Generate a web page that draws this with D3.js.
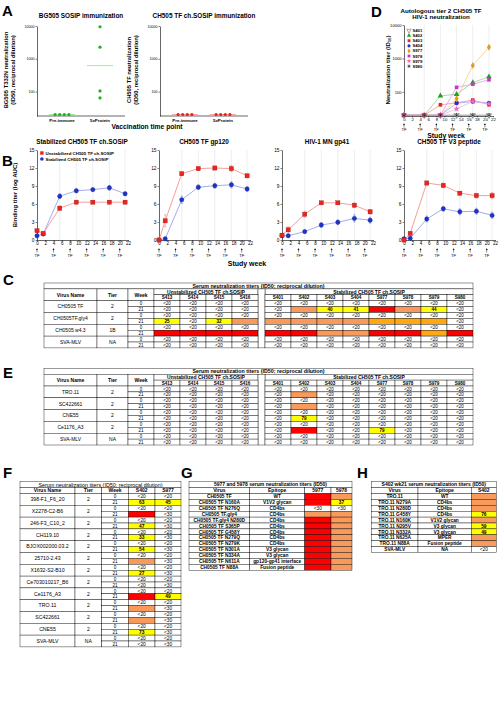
<!DOCTYPE html>
<html><head><meta charset="utf-8">
<script src="https://cdn.jsdelivr.net/npm/d3@7"></script>
<style>
html,body{margin:0;padding:0;background:#fff;}
svg{display:block;}
svg text{font-family:"Liberation Sans",Arial,Helvetica,sans-serif;}
</style></head><body>
<svg id="chart" width="504" height="723"></svg>
<script>
// ---------------- DATA ----------------
// Panel A
const aCategories = ["Pre-immune", "5xProtein"];
const aTicks = [100, 1000, 10000];
const bg505Pre = [20, 20, 20, 20];
const bg505Post = [9500, 2260, 105, 64];
const ch505Pre = [20, 20, 20, 20];
const ch505Post = [20, 20, 20, 20];

// Panel B
const bTitles = ["Stabilized CH505 TF ch.SOSIP", "CH505 TF gp120", "HIV-1 MN gp41", "CH505 TF V3 peptide"];
const bWeeks = [0, 1.5, 5.5, 9.5, 13.5, 17.5, 21.3];
const bUnstab = [
  [1.55, 1.1, 5.3, 6.3, 6.3, 6.3, 6.3],
  [0.0, 3.2, 11.05, 11.9, 12.0, 11.9, 10.7],
  [0.8, 1.7, 4.3, 6.2, 6.2, 5.8, 4.7],
  [0.0, 1.1, 9.5, 9.1, 7.8, 7.4, 7.4]
];
const bUnstabErr = [
  [0.2, 0.2, 0.4, 0.2, 0.2, 0.2, 0.2],
  [0.1, 1.0, 0.3, 0.3, 0.3, 0.5, 0.3],
  [0.1, 0.5, 0.5, 0.2, 0.2, 0.4, 0.4],
  [0.1, 0.3, 0.3, 0.4, 0.3, 0.4, 0.5]
];
const bStab = [
  [0.7, 1.0, 7.3, 8.2, 8.4, 8.7, 7.7],
  [0.0, 0.2, 6.7, 8.8, 9.05, 9.2, 8.5],
  [0.7, 0.7, 1.4, 2.5, 2.95, 3.6, 3.3],
  [0.2, 0.3, 3.5, 5.2, 4.7, 4.8, 4.1]
];
const bStabErr = [
  [0.15, 0.15, 0.4, 0.3, 0.3, 0.4, 0.3],
  [0.1, 0.1, 0.6, 0.4, 0.4, 0.5, 0.4],
  [0.1, 0.1, 0.3, 0.4, 0.4, 0.6, 0.5],
  [0.1, 0.1, 0.5, 0.4, 0.5, 0.5, 0.5]
];
const bYTicks = [0, 3, 6, 9, 12, 15];
const weekTicks = [0, 2, 4, 6, 8, 10, 12, 14, 16, 18, 20, 22];
const immunWeeks = [0, 4, 8, 12, 16, 20];
const bLegend = ["Unstabilized CH505 TF ch.SOSIP", "Stabilized CH505 TF ch.SOSIP"];

// Panel D
const dWeeks = [0, 5, 9, 13, 17, 21];
const dSera = ["S401", "S402", "S403", "S404", "S977", "S978", "S979", "S980"];
const dS401 = [20, 20, 20, 20, 20, 20];
const dS402 = [20, 20, 76, 85, 189, 284];
const dS403 = [20, 20, 41, 47, 57, 41];
const dS404 = [20, 20, 20, 46, 51, 47];
const dS977 = [20, 20, 20, 62, 620, 2150];
const dS978 = [20, 20, 20, 137, 170, 230];
const dS979 = [20, 20, 20, 31, 52, 44];
const dS980 = [20, 20, 20, 20, 20, 20];
const dTicks = [100, 1000, 10000];

// Tables C and E (R = red, O = orange, G = gold; numbers = yellow)
const unstabSera = ["S413", "S414", "S415", "S416"];
const stabSera = ["S401", "S402", "S403", "S404", "S977", "S978", "S979", "S980"];
const cViruses = ["CH0505 TF", "CH0505TF.gly4", "CH0505 w4.3", "SVA-MLV"];
const cTiers = ["2", "2", "1B", "NA"];
const cWeek0 = [
  ["<20","<20","<20","<20","<20","<20","<20","<20","<20","<20","<20","<20"],
  ["<20","<20","<20","<20","<20","<20","<20","<20","<20","<20","<20","<20"],
  ["<20","<20","<20","<20","<20","<20","<20","<20","<20","<20","<20","<20"],
  ["<20","<20","<20","<20","<20","<20","<20","<20","<20","<20","<20","<20"]
];
const cWeek21 = [
  ["<20","<20","<20","<20","<20","O","40","41","R","O","44","<20"],
  ["25","<20","32","O","O","O","O","O","G","G","G","<20"],
  ["R","R","R","R","R","R","O","O","R","R","G","R"],
  ["<20","<20","<20","<20","<20","<20","<20","<20","<20","<20","<20","<20"]
];
const eViruses = ["TRO.11", "SC422661", "CNE55", "Ce1176_A3", "SVA-MLV"];
const eTiers = ["2", "2", "2", "2", "NA"];
const eWeek0 = [
  ["<20","<20","<20","<20","<20","<20","<20","<20","<20","<20","<20","<20"],
  ["<20","<20","<20","<20","<20","<20","<20","<20","<20","<20","<20","<20"],
  ["<20","<20","<20","<20","<20","<20","<20","<20","<20","<20","<20","<20"],
  ["<20","<20","<20","<20","<20","<20","<20","<20","<20","<20","<20","<20"],
  ["<20","<20","<20","<20","<20","<20","<20","<20","<20","<20","<20","<20"]
];
const eWeek21 = [
  ["<20","<20","<20","<20","<20","O","<20","<20","<20","<20","<20","<20"],
  ["<20","<20","<20","<20","<20","O","<20","<20","<20","<20","<20","<20"],
  ["<20","<20","<20","<20","<20","79","<20","<20","<20","<20","<20","<20"],
  ["<20","<20","<20","<20","<20","R","<20","<20","79","<20","<20","<20"],
  ["<20","<20","<20","<20","<20","<20","<20","<20","<20","<20","<20","<20"]
];

// Table F
const fViruses = ["398-F1_F6_20","X2278-C2-B6","246-F3_C10_2","CH119.10","BJOX002000.03.2","25710-2.43","X1632-S2-B10","Ce703010217_B6","Ce1176_A3","TRO.11","SC422661","CNE55","SVA-MLV"];
const fTiers = ["2","2","2","2","2","2","2","2","2","2","2","2","NA"];
const fS402wk0 = ["<20","<20","<20","<20","<20","<20","<20","<20","<20","<20","<20","<20","<20"];
const fS402wk21 = ["63","R","47","33","54","O","27","<20","R","O","O","73","<20"];
const fS977wk0 = ["<20","<20","<20","<20","<20","<20","<20","<20","<20","<20","<20","<20","<20"];
const fS977wk21 = ["45","<30","<30","<30","<30","<30","<30","<30","49","<30","<30","<30","<30"];

// Table G
const gViruses = ["CH0505 TF","CH0505 TF N160A","CH0505 TF N276Q","CH0505 TF.gly4","CH0505 TF.gly4 N280D","CH0505 TF S365P","CH0505 TF G458Y","CH0505 TF N279Q","CH0505 TF N279K","CH0505 TF N301A","CH0505 TF N334A","CH0505 TF N611A","CH0505 TF N88A"];
const gEpitopes = ["WT","V1V2 glycan","CD4bs","CD4bs","CD4bs","CD4bs","CD4bs","CD4bs","CD4bs","V3 glycan","V3 glycan","gp120-gp41 interface","Fusion peptide"];
const g5977 = ["R","R","<30","O","R","R","R","R","R","R","R","R","R"];
const g5978 = ["O","37","<30","O","O","O","O","O","O","O","O","O","O"];

// Table H
const hViruses = ["TRO.11","TRO.11 N279A","TRO.11 N280D","TRO.11 G458Y","TRO.11 N160K","TRO.11 N295V","TRO.11 N332A","TRO.11 N625A","TRO.11 N88A","SVA-MLV"];
const hEpitopes = ["WT","CD4bs","CD4bs","CD4bs","V1V2 glycan","V3 glycan","V3 glycan","MPER","Fusion peptide","NA"];
const hS402 = ["O","O","O","76","O","59","49","O","O","<20"];

// ---------------- DRAWING ----------------
const svg = d3.select("#chart");
const RED = "#FF0000", ORG = "#F79A5C", GOLD = "#FFA812", YEL = "#FFFF00";

function txt(g, x, y, s, o = {}) {
  const t = g.append("text").attr("x", x).attr("y", y).text(s)
    .attr("font-size", o.size || 5)
    .attr("font-weight", o.bold ? "bold" : "normal")
    .attr("text-anchor", o.anchor || "middle")
    .attr("fill", o.fill || "#000");
  if (o.rotate) t.attr("transform", `rotate(${o.rotate},${x},${y})`);
  return t;
}
function styleAxis(sel, size) {
  sel.selectAll("path.domain").attr("stroke", "#000").attr("stroke-width", 0.6);
  sel.selectAll(".tick line").attr("stroke", "#000").attr("stroke-width", 0.5);
  sel.selectAll(".tick text").attr("font-size", size).attr("fill", "#000")
    .attr("font-family", '"Liberation Sans",Arial,sans-serif');
  sel.attr("font-family", null).attr("font-size", null);
}

// panel letters
[["A",2,16],["B",2,166],["C",3,285],["D",371,17],["E",3,378],["F",3,478],["G",181,478],["H",357,478]]
  .forEach(([l,x,y]) => txt(svg, x, y, l, {size: 15, bold: true, anchor: "start"}));

// ---------- Panel A ----------
function panelA(x0, title, yl1, yl2, pre, post, color, lineColor) {
  const g = svg.append("g");
  const x = d3.scalePoint().domain(aCategories).range([x0 + 25, x0 + 63]);
  const y = d3.scaleLog().domain([18, 10000]).range([116, 26]);
  const ax = g.append("g").attr("transform", `translate(${x0},0)`)
    .call(d3.axisLeft(y).tickValues(aTicks).tickFormat(d3.format("d")).tickSize(1.5).tickPadding(1).tickSizeOuter(0));
  styleAxis(ax, 3.6);
  g.append("line").attr("x1", x0).attr("x2", x0 + 88).attr("y1", 116).attr("y2", 116)
    .attr("stroke", "#000").attr("stroke-width", 0.6);
  aCategories.forEach(c => txt(g, x(c), 122.2, c, {size: 4.4, bold: true}));
  txt(g, x0 + 44, 18, title, {size: 6.4, bold: true});
  txt(g, x0 - 29, 70, yl1, {size: 5.8, bold: true, rotate: -90});
  txt(g, x0 - 22, 70, yl2, {size: 5.8, bold: true, rotate: -90});
  [[aCategories[0], pre], [aCategories[1], post]].forEach(([c, vals]) => {
    const gm = Math.pow(10, d3.mean(vals, v => Math.log10(v)));
    g.append("line").attr("x1", x(c) - 13).attr("x2", x(c) + 13).attr("y1", y(gm)).attr("y2", y(gm))
      .attr("stroke", lineColor).attr("stroke-width", 0.7);
    const same = vals.every(v => v === vals[0]);
    vals.forEach((v, i) => {
      const off = same ? (i - (vals.length - 1) / 2) * 4.6 : 0;
      g.append("circle").attr("cx", x(c) + off).attr("cy", y(v)).attr("r", 1.6).attr("fill", color);
    });
  });
}
panelA(37, "BG505 SOSIP immunization", "BG505 T332N neutralization", "(ID50, reciprocal dilution)", bg505Pre, bg505Post, "#22B022", "#7BE07B");
panelA(160, "CH505 TF ch.SOSIP immunization", "CH505 TF neutralization", "(ID50, reciprocal dilution)", ch505Pre, ch505Post, "#E82020", "#F08080");
txt(svg, 147, 128.5, "Vaccination time point", {size: 6.7, bold: true});

// ---------- Panel B ----------
const bX0s = [37, 159, 282, 404];
function arrows(g, x, yTop, tfY) {
  immunWeeks.forEach(w => {
    const xx = x(w);
    g.append("line").attr("x1", xx).attr("x2", xx).attr("y1", yTop + 4.2).attr("y2", yTop + 0.6)
      .attr("stroke", "#000").attr("stroke-width", 0.45);
    g.append("path").attr("d", `M${xx - 0.9},${yTop + 1.7}L${xx},${yTop}L${xx + 0.9},${yTop + 1.7}Z`).attr("fill", "#000");
    txt(g, xx, tfY, "TF", {size: 4.2});
  });
}
bTitles.forEach((title, i) => {
  const g = svg.append("g");
  const x0 = bX0s[i];
  const x = d3.scaleLinear().domain([0, 22]).range([x0, x0 + 91]);
  const y = d3.scaleLinear().domain([0, 15]).range([240, 150]);
  bWeeks.slice(2).forEach(w => g.append("line").attr("x1", x(w)).attr("x2", x(w)).attr("y1", 150).attr("y2", 240)
    .attr("stroke", "#dcdcdc").attr("stroke-width", 0.5));
  const ay = g.append("g").attr("transform", `translate(${x0},0)`)
    .call(d3.axisLeft(y).tickValues(bYTicks).tickSize(1.5).tickPadding(1).tickSizeOuter(0));
  styleAxis(ay, 4.8);
  const axb = g.append("g").attr("transform", `translate(0,240)`)
    .call(d3.axisBottom(x).tickValues(weekTicks).tickSize(1.5).tickPadding(0.8).tickSizeOuter(0));
  styleAxis(axb, 4.5);
  arrows(g, x, 248.3, 256.5);
  txt(g, x0 + 45, 144, title, {size: 6.4, bold: true});
  const series = [
    {vals: bUnstab[i], err: bUnstabErr[i], line: "#F4877E", mk: "#E8251F", ebc: "#F07070", shape: "sq"},
    {vals: bStab[i], err: bStabErr[i], line: "#8A98EE", mk: "#1F33CC", ebc: "#6677DD", shape: "ci"}
  ];
  // draw stabilized first then unstabilized on top? keep order: blue then red
  [series[1], series[0]].forEach(s => {
    g.append("path").datum(s.vals.map((v, k) => [bWeeks[k], v]))
      .attr("d", d3.line().x(d => x(d[0])).y(d => y(d[1])))
      .attr("fill", "none").attr("stroke", s.line).attr("stroke-width", 0.8);
    s.vals.forEach((v, k) => {
      const xx = x(bWeeks[k]), e = s.err[k];
      const lo = Math.max(0, v - e), hi = v + e;
      g.append("line").attr("x1", xx).attr("x2", xx).attr("y1", y(lo)).attr("y2", y(hi)).attr("stroke", s.ebc).attr("stroke-width", 0.5);
      [lo, hi].forEach(t => g.append("line").attr("x1", xx - 1.2).attr("x2", xx + 1.2).attr("y1", y(t)).attr("y2", y(t)).attr("stroke", s.ebc).attr("stroke-width", 0.5));
      if (s.shape === "sq") g.append("rect").attr("x", xx - 2.1).attr("y", y(v) - 2.1).attr("width", 4.2).attr("height", 4.2)
        .attr("fill", s.mk).attr("stroke", "#9a1010").attr("stroke-width", 0.3);
      else g.append("circle").attr("cx", xx).attr("cy", y(v)).attr("r", 2.2).attr("fill", s.mk).attr("stroke", "#10207a").attr("stroke-width", 0.3);
    });
  });
  if (i === 0) {
    g.append("rect").attr("x", 40.2).attr("y", 151.3).attr("width", 3.4).attr("height", 3.4).attr("fill", "#E8251F");
    txt(g, 45.5, 154.6, bLegend[0], {size: 4.4, bold: true, anchor: "start"});
    g.append("circle").attr("cx", 41.9).attr("cy", 159).attr("r", 1.8).attr("fill", "#1F33CC");
    txt(g, 45.5, 160.6, bLegend[1], {size: 4.4, bold: true, anchor: "start"});
  }
});
txt(svg, 17, 195, "Binding titer (log AUC)", {size: 6, bold: true, rotate: -90});
txt(svg, 247, 266, "Study week", {size: 7, bold: true});

// ---------- Panel D ----------
(function () {
  const g = svg.append("g");
  const x = d3.scaleLinear().domain([0, 22]).range([404, 493]);
  const y = d3.scaleLog().domain([19, 10000]).range([116, 25]);
  dWeeks.slice(1).forEach(w => g.append("line").attr("x1", x(w)).attr("x2", x(w)).attr("y1", 25).attr("y2", 116)
    .attr("stroke", "#dcdcdc").attr("stroke-width", 0.5));
  const ay = g.append("g").attr("transform", `translate(404,0)`)
    .call(d3.axisLeft(y).tickValues(dTicks).tickFormat(d3.format("d")).tickSize(1.5).tickPadding(1).tickSizeOuter(0));
  styleAxis(ay, 4.1);
  const axb = g.append("g").attr("transform", `translate(0,116)`)
    .call(d3.axisBottom(x).tickValues(weekTicks).tickSize(1.5).tickPadding(0.8).tickSizeOuter(0));
  styleAxis(axb, 4.3);
  arrows(g, x, 123.3, 131);
  txt(g, 441, 12.5, "Autologous tier 2 CH505 TF", {size: 6.2, bold: true});
  txt(g, 441, 19, "HIV-1 neutralization", {size: 6.2, bold: true});
  txt(g, 446, 138.2, "Study week", {size: 6.8, bold: true});
  const yl = g.append("text").attr("transform", "translate(390,70) rotate(-90)").attr("text-anchor", "middle")
    .attr("font-size", 6).attr("font-weight", "bold");
  yl.append("tspan").text("Neutralization titer (ID");
  yl.append("tspan").text("50").attr("font-size", 4).attr("dy", 1.2);
  yl.append("tspan").text(")").attr("dy", -1.2);
  const vals = [dS401, dS402, dS403, dS404, dS977, dS978, dS979, dS980];
  const style = [
    {c: "#555555", l: "#aaaaaa", sym: d3.symbolTriangle, rot: 180, open: true},
    {c: "#22A022", l: "#7FD07F", sym: d3.symbolTriangle, rot: 0},
    {c: "#E8251F", l: "#F4877E", sym: d3.symbolSquare, rot: 0},
    {c: "#1F33CC", l: "#8A98EE", sym: d3.symbolCircle, rot: 0},
    {c: "#E39B1F", l: "#F2C27A", sym: d3.symbolDiamond, rot: 0},
    {c: "#CC33CC", l: "#E58AE5", sym: d3.symbolSquare, rot: 0},
    {c: "#F266C8", l: "#F7A8DD", sym: d3.symbolStar, rot: 0},
    {c: "#111111", l: "#999999", sym: d3.symbolAsterisk || d3.symbolCross, rot: 0, stroke: true}
  ];
  const sizes = [13, 14, 13, 13, 14, 13, 13, 13];
  // lines
  vals.forEach((v, i) => {
    g.append("path").datum(v.map((d, k) => [dWeeks[k], d]))
      .attr("d", d3.line().x(d => x(d[0])).y(d => y(d[1])))
      .attr("fill", "none").attr("stroke", style[i].l).attr("stroke-width", 0.7);
  });
  function mark(gg, cx, cy, i, size) {
    const s = style[i];
    const p = gg.append("path").attr("d", d3.symbol().type(s.sym).size(size)())
      .attr("transform", `translate(${cx},${cy}) rotate(${s.rot})`);
    if (s.open) p.attr("fill", "#fff").attr("stroke", s.c).attr("stroke-width", 0.5);
    else if (s.stroke) p.attr("fill", "none").attr("stroke", s.c).attr("stroke-width", 0.6);
    else p.attr("fill", s.c);
  }
  vals.forEach((v, i) => v.forEach((d, k) => mark(g, x(dWeeks[k]), y(d), i, sizes[i])));
  // legend
  dSera.forEach((s, i) => {
    const ly = 30.5 + i * 5.1;
    mark(g, 409, ly, i, 8);
    txt(g, 412.5, ly + 1.5, s, {size: 4.2, bold: true, anchor: "start"});
  });
})();

// ---------- Tables ----------
function decode(v) {
  if (v === "R") return {fill: RED, text: ""};
  if (v === "O") return {fill: ORG, text: ""};
  if (v === "G") return {fill: GOLD, text: ""};
  if (/^\d+$/.test(v)) return {fill: YEL, text: v, bold: true};
  return {fill: "#fff", text: v};
}
function tcell(g, x0, x1, y0, y1, text, fill, o = {}) {
  g.append("rect").attr("x", x0).attr("y", y0).attr("width", x1 - x0).attr("height", y1 - y0)
    .attr("fill", fill || "#fff").attr("stroke", "#000").attr("stroke-width", 0.4);
  if (text) {
    const sz = o.size || 4.5;
    txt(g, (x0 + x1) / 2, (y0 + y1) / 2 + sz * 0.36, text, Object.assign({size: sz}, o));
  }
}
function vcell(g, x0, x1, y0, y1, v, size) {
  const d = decode(v);
  tcell(g, x0, x1, y0, y1, d.text, d.fill, {size: size, bold: d.bold});
}

function serumTable(top, viruses, tiers, wk0, wk21) {
  const g = svg.append("g");
  const n = 3 + viruses.length * 2;
  const ry = d3.scaleBand().domain(d3.range(n)).range([top, top + 5.9 * n]);
  const h = ry.bandwidth();
  const xu = d3.scaleBand().domain(unstabSera).range([154, 258]);
  const xs = d3.scaleBand().domain(stabSera).range([265, 473]);
  const bottom = top + 5.9 * n;
  tcell(g, 44, 473, ry(0), ry(0) + h, "Serum neutralization titers (ID50; reciprocal dilution)", "#fff", {size: 5.3, bold: true});
  tcell(g, 44, 97, ry(1), ry(2) + h, "Virus Name", "#fff", {size: 5, bold: true});
  tcell(g, 97, 128, ry(1), ry(2) + h, "Tier", "#fff", {size: 5, bold: true});
  tcell(g, 128, 154, ry(1), ry(2) + h, "Week", "#fff", {size: 5, bold: true});
  tcell(g, 154, 258, ry(1), ry(1) + h, "Unstabilized CH505 TF ch.SOSIP", "#fff", {size: 5, bold: true});
  tcell(g, 265, 473, ry(1), ry(1) + h, "Stabilized CH505 TF ch.SOSIP", "#fff", {size: 5, bold: true});
  tcell(g, 258, 265, ry(1), bottom, "", "#fff");
  unstabSera.forEach(s => tcell(g, xu(s), xu(s) + xu.bandwidth(), ry(2), ry(2) + h, s, "#fff", {size: 4.6, bold: true}));
  stabSera.forEach(s => tcell(g, xs(s), xs(s) + xs.bandwidth(), ry(2), ry(2) + h, s, "#fff", {size: 4.6, bold: true}));
  const sera = unstabSera.concat(stabSera);
  viruses.forEach((vn, i) => {
    const r0 = 3 + i * 2;
    tcell(g, 44, 97, ry(r0), ry(r0 + 1) + h, vn, "#fff", {size: 5});
    tcell(g, 97, 128, ry(r0), ry(r0 + 1) + h, tiers[i], "#fff", {size: 5});
    [["0", wk0[i]], ["21", wk21[i]]].forEach(([wk, row], j) => {
      const yy = ry(r0 + j);
      tcell(g, 128, 154, yy, yy + h, wk, "#fff", {size: 4.5});
      sera.forEach((s, k) => {
        const xb = k < 4 ? xu : xs;
        vcell(g, xb(s), xb(s) + xb.bandwidth(), yy, yy + h, row[k], 4.5);
      });
    });
  });
}
serumTable(283, cViruses, cTiers, cWeek0, cWeek21);
serumTable(368.3, eViruses, eTiers, eWeek0, eWeek21);

// Table F
(function () {
  const g = svg.append("g");
  const n = 2 + fViruses.length * 2;
  const ry = d3.scaleBand().domain(d3.range(n)).range([481.7, 481.7 + 5.9 * n]);
  const h = ry.bandwidth();
  const cx = [20, 75, 101.7, 128.3, 155, 181];
  tcell(g, 20, 181, ry(0), ry(0) + h, "Serum neutralization titers (ID50; reciprocal dilution)", "#fff", {size: 5.4});
  ["Virus Name", "Tier", "Week", "S402", "S977"].forEach((t, k) =>
    tcell(g, cx[k], cx[k + 1], ry(1), ry(1) + h, t, "#fff", {size: 5, bold: true}));
  fViruses.forEach((vn, i) => {
    const r0 = 2 + i * 2;
    tcell(g, cx[0], cx[1], ry(r0), ry(r0 + 1) + h, vn, "#fff", {size: 5.2});
    tcell(g, cx[1], cx[2], ry(r0), ry(r0 + 1) + h, fTiers[i], "#fff", {size: 5});
    [["0", fS402wk0[i], fS977wk0[i]], ["21", fS402wk21[i], fS977wk21[i]]].forEach(([wk, a, b], j) => {
      const yy = ry(r0 + j);
      tcell(g, cx[2], cx[3], yy, yy + h, wk, "#fff", {size: 4.6});
      vcell(g, cx[3], cx[4], yy, yy + h, a, 4.8);
      vcell(g, cx[4], cx[5], yy, yy + h, b, 4.8);
    });
  });
})();

// Table G
(function () {
  const g = svg.append("g");
  const n = 2 + gViruses.length;
  const ry = d3.scaleBand().domain(d3.range(n)).range([481.7, 481.7 + 5.9 * n]);
  const h = ry.bandwidth();
  const cx = [189, 249.7, 304.7, 331, 352];
  tcell(g, 189, 352, ry(0), ry(0) + h, "5977 and 5978 serum neutralization titers (ID50)", "#fff", {size: 5, bold: true});
  ["Virus", "Epitope", "5977", "5978"].forEach((t, k) =>
    tcell(g, cx[k], cx[k + 1], ry(1), ry(1) + h, t, "#fff", {size: 5, bold: true}));
  gViruses.forEach((vn, i) => {
    const yy = ry(2 + i);
    tcell(g, cx[0], cx[1], yy, yy + h, vn, "#fff", {size: 4.8, bold: true});
    tcell(g, cx[1], cx[2], yy, yy + h, gEpitopes[i], "#fff", {size: 4.8, bold: true});
    vcell(g, cx[2], cx[3], yy, yy + h, g5977[i], 4.8);
    vcell(g, cx[3], cx[4], yy, yy + h, g5978[i], 4.8);
  });
})();

// Table H
(function () {
  const g = svg.append("g");
  const n = 2 + hViruses.length;
  const ry = d3.scaleBand().domain(d3.range(n)).range([481.7, 481.7 + 5.9 * n]);
  const h = ry.bandwidth();
  const cx = [371.3, 418, 471.3, 496.3];
  tcell(g, cx[0], cx[3], ry(0), ry(0) + h, "S402 wk21 serum neutralization titers (ID50)", "#fff", {size: 5, bold: true});
  ["Virus", "Epitope", "S402"].forEach((t, k) =>
    tcell(g, cx[k], cx[k + 1], ry(1), ry(1) + h, t, "#fff", {size: 5, bold: true}));
  hViruses.forEach((vn, i) => {
    const yy = ry(2 + i);
    tcell(g, cx[0], cx[1], yy, yy + h, vn, "#fff", {size: 4.8, bold: true});
    tcell(g, cx[1], cx[2], yy, yy + h, hEpitopes[i], "#fff", {size: 4.8, bold: true});
    vcell(g, cx[2], cx[3], yy, yy + h, hS402[i], 4.8);
  });
})();
</script></body></html>
